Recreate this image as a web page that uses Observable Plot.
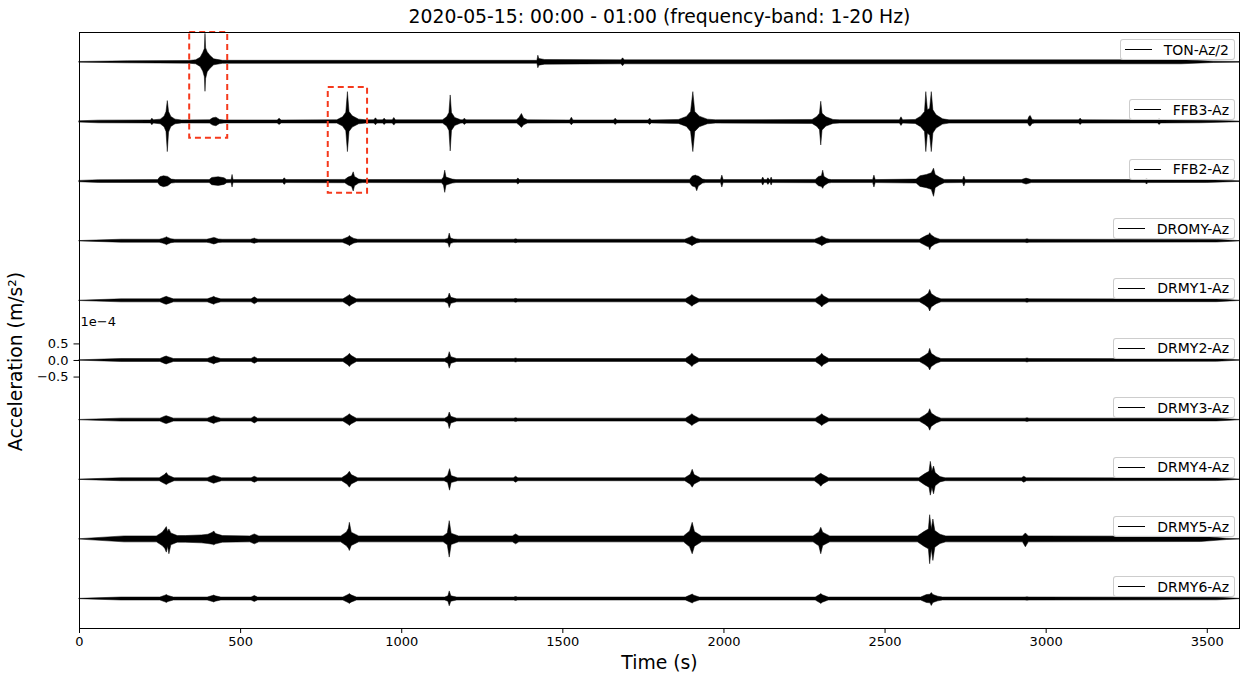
<!DOCTYPE html>
<html><head><meta charset="utf-8">
<script src="https://cdn.jsdelivr.net/npm/d3@7"></script>
<script src="https://cdn.jsdelivr.net/npm/@observablehq/plot@0.6"></script>
<style>
body{margin:0;background:#fff;font-family:"DejaVu Sans",sans-serif;}
#wrap{position:relative;width:1244px;height:677px;}
#wrap svg{display:block;}
.leg{position:absolute;box-sizing:border-box;height:21px;border:1px solid rgba(200,200,200,0.9);border-radius:3px;background:rgba(255,255,255,0.8);display:flex;align-items:center;padding:0 5px 0 4px;font-size:14px;color:#000;white-space:nowrap;}
.leg .ln{display:inline-block;width:27px;border-top:1.3px solid #000;margin-right:12px;}
</style></head><body><div id="wrap"></div>
<script>
// Trace names, vertical offsets (units of 1e-4 m/s^2)
const names = ["TON-Az/2","FFB3-Az","FFB2-Az","DROMY-Az","DRMY1-Az","DRMY2-Az","DRMY3-Az","DRMY4-Az","DRMY5-Az","DRMY6-Az"];
const offsets = [9.0, 7.2, 5.4, 3.6, 1.8, 0, -1.8, -3.6, -5.4, -7.2];
const xTicks = [0,500,1000,1500,2000,2500,3000,3500];
const yTicks = [-0.5,0,0.5];
const titleText = "2020-05-15: 00:00 - 01:00 (frequency-band: 1-20 Hz)";
// Red dashed boxes: time range (s) and amplitude range (1e-4 m/s^2)
const redBoxes = [
  {t1:342, t2:460, a1:6.71, a2:9.90},
  {t1:772, t2:894, a1:5.05, a2:8.24}
];
// Envelopes: [time s, upper amplitude, lower amplitude] (1e-4 m/s^2)
const TON = [
[0,0.01,0.01],[150,0.03,0.03],[340,0.04,0.04],[362,0.06,0.06],[376,0.14,0.14],[384,0.28,0.28],[389,0.4,0.45],[391,0.86,0.89],[393,0.42,0.5],[398,0.3,0.3],[406,0.2,0.2],[418,0.09,0.09],[445,0.045,0.045],
[1421,0.045,0.045],[1424,0.2,0.18],[1427,0.1,0.1],[1445,0.07,0.07],[1682,0.06,0.06],[1687,0.12,0.12],[1692,0.06,0.06],[3420,0.06,0.06],[3520,0.02,0.02],[3600,0.01,0.01]];
const FFB3 = [
[0,0.02,0.02],[60,0.04,0.04],[222,0.045,0.045],[226,0.1,0.1],[231,0.05,0.05],[252,0.07,0.07],[264,0.16,0.16],[270,0.3,0.3],[274,0.63,0.91],[278,0.3,0.32],[285,0.15,0.15],[298,0.07,0.07],[318,0.045,0.045],
[405,0.05,0.05],[415,0.11,0.11],[425,0.13,0.13],[436,0.06,0.06],[450,0.045,0.045],
[615,0.045,0.045],[621,0.1,0.09],[627,0.045,0.045],
[800,0.05,0.05],[818,0.14,0.14],[828,0.28,0.28],[833,0.9,0.91],[838,0.3,0.3],[848,0.17,0.17],[868,0.07,0.07],[890,0.05,0.05],
[915,0.05,0.05],[920,0.11,0.1],[925,0.05,0.05],[942,0.05,0.05],[947,0.1,0.09],[952,0.05,0.05],[972,0.05,0.05],[977,0.12,0.11],[982,0.05,0.05],
[1128,0.05,0.05],[1141,0.14,0.14],[1148,0.27,0.27],[1152,0.8,0.89],[1156,0.27,0.27],[1166,0.12,0.12],[1185,0.05,0.05],
[1191,0.05,0.05],[1196,0.1,0.09],[1201,0.05,0.05],
[1358,0.05,0.05],[1366,0.13,0.11],[1373,0.24,0.18],[1380,0.1,0.1],[1392,0.05,0.05],
[1523,0.045,0.045],[1528,0.13,0.1],[1533,0.045,0.045],
[1659,0.045,0.045],[1664,0.1,0.09],[1669,0.045,0.045],
[1766,0.045,0.045],[1771,0.1,0.09],[1776,0.045,0.045],
[1860,0.06,0.06],[1885,0.15,0.15],[1898,0.3,0.3],[1905,0.9,0.91],[1911,0.3,0.3],[1925,0.16,0.16],[1950,0.07,0.07],[1975,0.05,0.05],
[2275,0.06,0.06],[2290,0.15,0.15],[2298,0.25,0.25],[2302,0.61,0.71],[2306,0.25,0.26],[2318,0.14,0.14],[2340,0.06,0.06],[2360,0.05,0.05],
[2546,0.05,0.05],[2551,0.14,0.12],[2556,0.05,0.05],
[2595,0.06,0.06],[2612,0.16,0.16],[2624,0.3,0.3],[2628,0.9,0.91],[2633,0.35,0.35],[2640,0.4,0.42],[2645,0.9,0.91],[2650,0.35,0.35],[2660,0.2,0.2],[2680,0.08,0.08],[2700,0.05,0.05],
[2944,0.05,0.05],[2948,0.15,0.12],[2952,0.18,0.14],[2958,0.06,0.06],[2966,0.05,0.05],
[3102,0.05,0.05],[3107,0.1,0.09],[3112,0.05,0.05],
[3347,0.045,0.045],[3352,0.1,0.09],[3357,0.045,0.045],
[3480,0.04,0.04],[3600,0.01,0.01]];
const FFB2 = [
[0,0.02,0.02],[60,0.04,0.04],
[244,0.045,0.045],[251,0.13,0.13],[262,0.16,0.17],[275,0.14,0.14],[286,0.06,0.06],[300,0.045,0.045],
[404,0.045,0.045],[412,0.11,0.11],[432,0.13,0.13],[450,0.1,0.1],[458,0.05,0.05],
[472,0.045,0.045],[475,0.2,0.18],[478,0.045,0.045],
[632,0.045,0.045],[637,0.1,0.1],[642,0.045,0.045],
[825,0.05,0.05],[835,0.12,0.12],[846,0.16,0.16],[851,0.28,0.3],[855,0.14,0.14],[868,0.06,0.06],[880,0.045,0.045],
[1125,0.05,0.05],[1131,0.12,0.12],[1135,0.33,0.34],[1139,0.12,0.12],[1158,0.06,0.06],[1170,0.045,0.045],
[1357,0.045,0.045],[1362,0.09,0.09],[1367,0.045,0.045],
[1895,0.05,0.05],[1903,0.15,0.15],[1913,0.18,0.18],[1917,0.16,0.29],[1922,0.15,0.15],[1935,0.06,0.06],[1945,0.045,0.045],
[1991,0.045,0.045],[1995,0.18,0.18],[1999,0.045,0.045],
[2118,0.045,0.045],[2122,0.12,0.12],[2126,0.045,0.045],[2134,0.045,0.045],[2138,0.1,0.1],[2142,0.045,0.045],[2145,0.045,0.045],[2148,0.12,0.12],[2151,0.045,0.045],
[2285,0.05,0.05],[2295,0.14,0.14],[2304,0.16,0.16],[2308,0.33,0.22],[2312,0.14,0.14],[2325,0.06,0.06],[2335,0.045,0.045],
[2463,0.045,0.045],[2467,0.18,0.18],[2471,0.045,0.045],
[2598,0.06,0.06],[2610,0.16,0.16],[2630,0.2,0.2],[2645,0.25,0.25],[2652,0.39,0.46],[2657,0.2,0.2],[2670,0.12,0.12],[2685,0.05,0.05],
[2742,0.045,0.045],[2746,0.15,0.15],[2750,0.045,0.045],
[2925,0.045,0.045],[2939,0.09,0.09],[2955,0.045,0.045],
[3309,0.045,0.045],[3313,0.09,0.09],[3317,0.045,0.045],
[3500,0.04,0.04],[3600,0.01,0.01]];
const DROMY = [
[0,0.005,0.005],[130,0.045,0.045],
[249,0.045,0.045],[259,0.07,0.07],[268,0.1,0.1],[271,0.12,0.12],[275,0.1,0.1],[285,0.06,0.06],[297,0.045,0.045],
[396,0.045,0.045],[406,0.065,0.065],[415,0.09,0.09],[418,0.1,0.1],[422,0.09,0.09],[432,0.055,0.055],[444,0.045,0.045],
[532,0.045,0.045],[541,0.07,0.07],[544,0.08,0.08],[548,0.06,0.06],[556,0.045,0.045],
[817,0.045,0.045],[827,0.085,0.085],[836,0.12,0.12],[839,0.16,0.15],[843,0.12,0.12],[853,0.07,0.07],[865,0.045,0.045],
[1135,0.045,0.045],[1145,0.07,0.07],[1149,0.23,0.2],[1153,0.08,0.08],[1163,0.05,0.05],[1175,0.045,0.045],
[1349,0.045,0.045],[1355,0.06,0.06],[1361,0.045,0.045],
[1880,0.045,0.045],[1890,0.085,0.085],[1899,0.12,0.12],[1902,0.15,0.15],[1906,0.12,0.12],[1916,0.07,0.07],[1928,0.045,0.045],
[2283,0.045,0.045],[2293,0.085,0.085],[2302,0.12,0.12],[2305,0.15,0.15],[2309,0.12,0.12],[2319,0.07,0.07],[2331,0.045,0.045],
[2608,0.045,0.045],[2620,0.11,0.11],[2632,0.17,0.17],[2637,0.18,0.18],[2640,0.24,0.27],[2644,0.18,0.18],[2656,0.1,0.1],[2672,0.045,0.045],
[2936,0.045,0.045],[2942,0.06,0.06],[2948,0.045,0.045],
[3530,0.04,0.04],[3600,0.005,0.005]];
const DRMY1 = [
[0,0.005,0.005],[130,0.045,0.045],
[251,0.045,0.045],[267,0.11,0.11],[271,0.12,0.12],[276,0.1,0.1],[293,0.045,0.045],
[398,0.045,0.045],[414,0.1,0.1],[418,0.12,0.12],[423,0.09,0.09],[440,0.045,0.045],
[534,0.045,0.045],[544,0.105,0.105],[554,0.045,0.045],
[819,0.045,0.045],[835,0.14,0.14],[839,0.18,0.18],[844,0.13,0.13],[861,0.045,0.045],
[1135,0.045,0.045],[1145,0.09,0.09],[1149,0.22,0.22],[1154,0.09,0.09],[1172,0.045,0.045],
[1349,0.045,0.045],[1355,0.06,0.06],[1361,0.045,0.045],
[1882,0.045,0.045],[1898,0.14,0.14],[1902,0.18,0.18],[1907,0.13,0.13],[1924,0.045,0.045],
[2285,0.045,0.045],[2301,0.15,0.15],[2305,0.2,0.2],[2310,0.14,0.14],[2327,0.045,0.045],
[2608,0.045,0.045],[2625,0.14,0.14],[2636,0.22,0.22],[2640,0.33,0.32],[2645,0.2,0.2],[2660,0.1,0.1],[2675,0.045,0.045],
[2936,0.045,0.045],[2942,0.06,0.06],[2948,0.045,0.045],
[3530,0.04,0.04],[3600,0.005,0.005]];
const DRMY2 = [
[0,0.005,0.005],[130,0.045,0.045],
[251,0.045,0.045],[267,0.11,0.11],[271,0.12,0.12],[276,0.1,0.1],[293,0.045,0.045],
[398,0.045,0.045],[414,0.1,0.1],[418,0.12,0.12],[423,0.09,0.09],[440,0.045,0.045],
[534,0.045,0.045],[544,0.1,0.1],[554,0.045,0.045],
[819,0.045,0.045],[835,0.15,0.15],[839,0.2,0.2],[844,0.14,0.14],[861,0.045,0.045],
[1135,0.045,0.045],[1145,0.1,0.1],[1149,0.25,0.25],[1154,0.1,0.1],[1172,0.045,0.045],
[1349,0.045,0.045],[1355,0.06,0.06],[1361,0.045,0.045],
[1882,0.045,0.045],[1898,0.15,0.15],[1902,0.2,0.2],[1907,0.14,0.14],[1924,0.045,0.045],
[2285,0.045,0.045],[2301,0.15,0.15],[2305,0.2,0.2],[2310,0.14,0.14],[2327,0.045,0.045],
[2608,0.045,0.045],[2625,0.14,0.14],[2636,0.22,0.22],[2640,0.35,0.3],[2645,0.2,0.2],[2660,0.1,0.1],[2675,0.045,0.045],
[2936,0.045,0.045],[2942,0.06,0.06],[2948,0.045,0.045],
[3530,0.04,0.04],[3600,0.005,0.005]];
const DRMY3 = [
[0,0.005,0.005],[130,0.045,0.045],
[251,0.045,0.045],[267,0.11,0.11],[271,0.12,0.12],[276,0.1,0.1],[293,0.045,0.045],
[398,0.045,0.045],[414,0.1,0.1],[418,0.12,0.12],[423,0.09,0.09],[440,0.045,0.045],
[534,0.045,0.045],[544,0.1,0.1],[554,0.045,0.045],
[819,0.045,0.045],[835,0.14,0.14],[839,0.18,0.18],[844,0.13,0.13],[861,0.045,0.045],
[1135,0.045,0.045],[1145,0.1,0.1],[1149,0.23,0.27],[1154,0.1,0.1],[1172,0.045,0.045],
[1349,0.045,0.045],[1355,0.06,0.06],[1361,0.045,0.045],
[1882,0.045,0.045],[1898,0.14,0.14],[1902,0.18,0.18],[1907,0.13,0.13],[1924,0.045,0.045],
[2285,0.045,0.045],[2301,0.14,0.14],[2305,0.18,0.18],[2310,0.13,0.13],[2327,0.045,0.045],
[2608,0.045,0.045],[2625,0.14,0.14],[2636,0.22,0.22],[2640,0.33,0.32],[2645,0.2,0.2],[2660,0.1,0.1],[2675,0.045,0.045],
[2936,0.045,0.045],[2942,0.06,0.06],[2948,0.045,0.045],
[3530,0.04,0.04],[3600,0.005,0.005]];
const DRMY4 = [
[0,0.005,0.005],[130,0.045,0.045],
[249,0.045,0.045],[265,0.14,0.13],[271,0.2,0.16],[277,0.12,0.12],[295,0.045,0.045],
[398,0.045,0.045],[412,0.1,0.1],[418,0.12,0.12],[424,0.1,0.1],[442,0.045,0.045],
[534,0.045,0.045],[544,0.09,0.09],[554,0.045,0.045],
[815,0.045,0.045],[832,0.15,0.15],[839,0.24,0.24],[845,0.14,0.14],[865,0.045,0.045],
[1133,0.045,0.045],[1144,0.12,0.1],[1150,0.32,0.33],[1155,0.11,0.1],[1175,0.045,0.045],
[1348,0.045,0.045],[1355,0.09,0.09],[1362,0.045,0.045],
[1880,0.045,0.045],[1897,0.15,0.15],[1903,0.3,0.24],[1909,0.14,0.14],[1928,0.045,0.045],
[2282,0.045,0.045],[2297,0.15,0.15],[2302,0.18,0.21],[2308,0.14,0.14],[2326,0.045,0.045],
[2606,0.045,0.045],[2625,0.17,0.17],[2638,0.24,0.24],[2642,0.54,0.48],[2647,0.25,0.25],[2652,0.4,0.44],[2657,0.2,0.2],[2672,0.08,0.08],[2688,0.045,0.045],
[2925,0.045,0.045],[2932,0.09,0.09],[2940,0.045,0.045],
[3530,0.04,0.04],[3600,0.005,0.005]];
const DRMY5 = [
[0,0.005,0.005],[140,0.09,0.09],
[240,0.09,0.09],[258,0.2,0.2],[266,0.3,0.28],[271,0.37,0.4],[275,0.22,0.22],[279,0.3,0.45],[285,0.18,0.18],[305,0.1,0.1],
[330,0.1,0.1],[380,0.12,0.12],[400,0.14,0.14],[414,0.2,0.16],[418,0.24,0.18],[424,0.16,0.15],[445,0.1,0.1],
[530,0.09,0.09],[544,0.15,0.15],[558,0.09,0.09],
[812,0.09,0.09],[830,0.21,0.21],[836,0.32,0.28],[839,0.5,0.35],[845,0.2,0.2],[868,0.09,0.09],
[1130,0.09,0.09],[1143,0.18,0.18],[1149,0.55,0.55],[1155,0.17,0.17],[1178,0.09,0.09],
[1345,0.09,0.09],[1355,0.15,0.15],[1365,0.09,0.09],
[1876,0.09,0.09],[1895,0.24,0.24],[1903,0.5,0.45],[1910,0.22,0.22],[1932,0.09,0.09],
[2278,0.09,0.09],[2296,0.21,0.21],[2302,0.35,0.45],[2308,0.2,0.2],[2330,0.09,0.09],
[2602,0.09,0.09],[2622,0.22,0.22],[2636,0.3,0.3],[2640,0.73,0.75],[2645,0.3,0.3],[2650,0.6,0.65],[2656,0.25,0.25],[2672,0.14,0.14],[2690,0.09,0.09],
[2928,0.09,0.09],[2937,0.18,0.24],[2946,0.09,0.09],
[3480,0.08,0.08],[3560,0.02,0.02],[3600,0.005,0.005]];
const DRMY6 = [
[0,0.005,0.005],[130,0.045,0.045],
[251,0.045,0.045],[267,0.1,0.1],[271,0.12,0.12],[276,0.09,0.09],[293,0.045,0.045],
[398,0.045,0.045],[414,0.09,0.09],[418,0.105,0.105],[423,0.08,0.08],[440,0.045,0.045],
[534,0.045,0.045],[544,0.09,0.09],[554,0.045,0.045],
[819,0.045,0.045],[835,0.12,0.12],[839,0.15,0.15],[844,0.11,0.11],[861,0.045,0.045],
[1135,0.045,0.045],[1145,0.08,0.08],[1149,0.23,0.22],[1154,0.08,0.08],[1172,0.045,0.045],
[1349,0.045,0.045],[1355,0.06,0.06],[1361,0.045,0.045],
[1882,0.045,0.045],[1898,0.11,0.11],[1903,0.135,0.135],[1908,0.1,0.1],[1925,0.045,0.045],
[2285,0.045,0.045],[2298,0.12,0.12],[2302,0.15,0.15],[2307,0.11,0.11],[2325,0.045,0.045],
[2612,0.045,0.045],[2630,0.12,0.12],[2641,0.13,0.13],[2645,0.18,0.21],[2650,0.12,0.12],[2665,0.07,0.07],[2680,0.045,0.045],
[2936,0.045,0.045],[2942,0.05,0.05],[2948,0.045,0.045],
[3530,0.04,0.04],[3600,0.005,0.005]];

const envelopes = [TON, FFB3, FFB2, DROMY, DRMY1, DRMY2, DRMY3, DRMY4, DRMY5, DRMY6];
const rows = names.flatMap((name, i) => envelopes[i].map(([t, u, d]) => ({name, t, lo: offsets[i] - d, hi: offsets[i] + u})));

const plot = Plot.plot({
  width: 1244, height: 677,
  marginLeft: 79, marginRight: 5, marginTop: 32, marginBottom: 49,
  style: {fontFamily: "DejaVu Sans", fontSize: "13px", color: "#000", background: "#fff"},
  x: {domain: [0, 3600], ticks: xTicks, tickFormat: d => String(d), tickSize: 5, tickPadding: 3, label: null},
  y: {domain: [-8.09, 9.90], ticks: yTicks, tickFormat: d3.format(".1f"), tickSize: 5.5, tickPadding: 5.5, label: null},
  marks: [
    Plot.area(rows, {x1: "t", y1: "lo", y2: "hi", z: "name", fill: "#000", stroke: "#000", strokeWidth: 0.5, curve: "linear"}),
    Plot.rect(redBoxes, {x1: "t1", x2: "t2", y1: "a1", y2: "a2", fill: "none", stroke: "#f5391c", strokeWidth: 2, strokeDasharray: "6,4"}),
    Plot.frame({stroke: "#000", strokeWidth: 1}),
    Plot.text([titleText], {text: d => d, frameAnchor: "top", lineAnchor: "middle", dy: -15.3, fontSize: 18.8}),
    Plot.text(["Time (s)"], {text: d => d, frameAnchor: "bottom", lineAnchor: "middle", dy: 34.6, fontSize: 18.8}),
    Plot.text(["Acceleration (m/s²)"], {text: d => d, frameAnchor: "left", textAnchor: "middle", lineAnchor: "middle", rotate: -90, dx: -64, dy: 31, fontSize: 18.8}),
    Plot.text(["1e−4"], {text: d => d, frameAnchor: "left", textAnchor: "start", lineAnchor: "middle", dx: 1, dy: -8.3, fontSize: 13})
  ]
});
const wrap = document.getElementById("wrap");
wrap.appendChild(plot);
const ys = plot.scale("y");
names.forEach((name, i) => {
  const base = ys.apply(offsets[i]);
  const d = document.createElement("div");
  d.className = "leg";
  d.style.top = (base - 22.4) + "px";
  d.style.right = "9px";
  const ln = document.createElement("span"); ln.className = "ln";
  const tx = document.createElement("span"); tx.textContent = name;
  d.appendChild(ln); d.appendChild(tx);
  wrap.appendChild(d);
});
</script></body></html>
